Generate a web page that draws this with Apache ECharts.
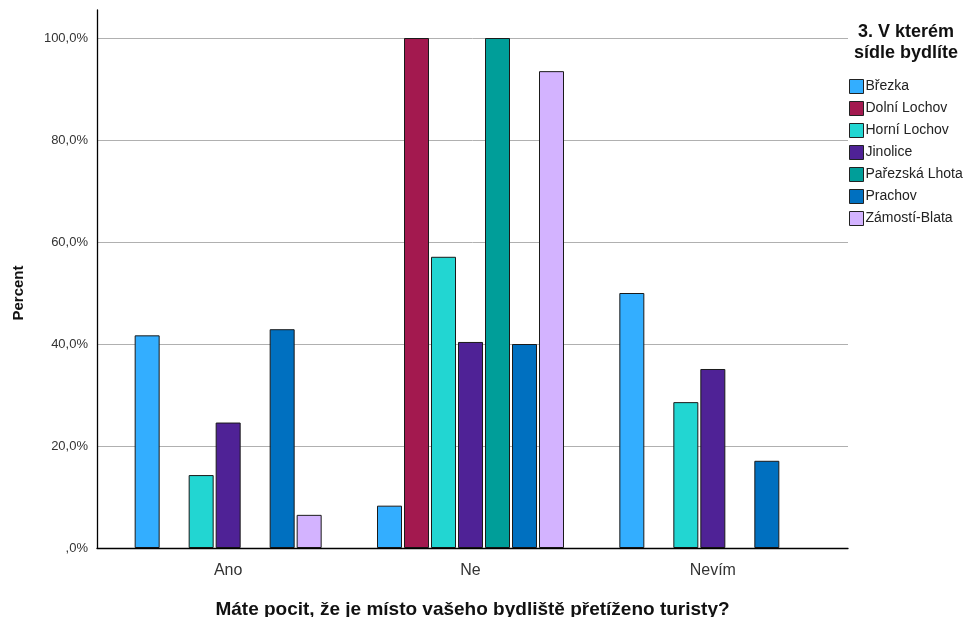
<!DOCTYPE html>
<html><head><meta charset="utf-8">
<script src="https://cdn.jsdelivr.net/npm/echarts@6/dist/echarts.min.js"></script>
<style>html,body{margin:0;padding:0;background:#fff}#c{width:975px;height:617px}</style>
</head><body><div id="c"></div>
<script>
const categories = ['Ano', 'Ne', 'Nevím'];
const seriesNames = ['Březka', 'Dolní Lochov', 'Horní Lochov', 'Jinolice', 'Pařezská Lhota', 'Prachov', 'Zámostí-Blata'];
const brezka = [41.7, 8.3, 50.0];
const dolniLochov = [null, 100.0, null];
const horniLochov = [14.3, 57.1, 28.6];
const jinolice = [24.6, 40.4, 35.1];
const parezskaLhota = [null, 100.0, null];
const prachov = [42.9, 40.0, 17.1];
const zamostiBlata = [6.5, 93.5, null];
const yTickValues = [0, 20, 40, 60, 80, 100];
const legendTitle = ['3. V kterém', 'sídle bydlíte'];
const xTitle = 'Máte pocit, že je místo vašeho bydliště přetíženo turisty?';
const yTitle = 'Percent';

const seriesValues = [brezka, dolniLochov, horniLochov, jinolice, parezskaLhota, prachov, zamostiBlata];
const colors = ['#33AEFF', '#A3194F', '#22D6D2', '#4F2296', '#009E99', '#0070C0', '#D3B3FF'];
const FONT = '"Liberation Sans", Arial, sans-serif';

function fmt(v) {
  if (v === 0) return ',0%';
  return v.toFixed(1).replace('.', ',') + '%';
}

const chart = echarts.init(document.getElementById('c'), null, {renderer: 'canvas'});
chart.setOption({
  animation: false,
  backgroundColor: '#fff',
  textStyle: {fontFamily: FONT},
  grid: [
    {left: 97, right: 127, top: 10, bottom: 69, outerBoundsMode: 'none', containLabel: false},
    {left: 97, right: 127, top: 38, bottom: 69, outerBoundsMode: 'none', containLabel: false},
    {left: 107, right: 141, top: 38, bottom: 69, outerBoundsMode: 'none', containLabel: false}
  ],
  xAxis: [
    {gridIndex: 0, type: 'category', data: categories, z: 5,
     axisLine: {show: true, lineStyle: {color: '#000', width: 1.3}},
     axisTick: {show: false}, axisLabel: {show: false}, splitLine: {show: false}},
    {gridIndex: 1, type: 'category', data: categories,
     axisLine: {show: false}, axisTick: {show: false}, axisLabel: {show: false},
     name: xTitle, nameLocation: 'middle', nameGap: 52,
     nameTextStyle: {fontFamily: FONT, fontSize: 19, fontWeight: 'bold', color: '#111'}},
    {gridIndex: 2, type: 'category', data: categories,
     axisLine: {show: false}, axisTick: {show: false},
     axisLabel: {margin: 15, fontSize: 16, color: '#333', fontFamily: FONT}}
  ],
  yAxis: [
    {gridIndex: 0, type: 'value', min: 0, max: 105.5, z: 5,
     axisLine: {show: true, lineStyle: {color: '#000', width: 1.3}},
     axisTick: {show: false}, axisLabel: {show: false}, splitLine: {show: false}},
    {gridIndex: 1, type: 'value', min: 0, max: 100, interval: 20,
     axisLine: {show: false}, axisTick: {show: false},
     axisLabel: {margin: 9, fontSize: 13, color: '#333', fontFamily: FONT,
       formatter: function (v) { return yTickValues.indexOf(v) >= 0 ? fmt(v) : ''; }},
     splitLine: {show: true, lineStyle: {color: '#b0b0b0', width: 1}},
     name: yTitle, nameLocation: 'middle', nameGap: 71, nameRotate: 90,
     nameTextStyle: {fontFamily: FONT, fontSize: 15, fontWeight: 'bold', color: '#111'}},
    {gridIndex: 2, type: 'value', min: 0, max: 100, show: false}
  ],
  legend: {
    orient: 'vertical', left: 844, top: 74,
    itemWidth: 14, itemHeight: 14, itemGap: 7,
    icon: 'rect',
    textStyle: {fontFamily: FONT, fontSize: 14, color: '#222', padding: [0, 0, 0, -3]},
    itemStyle: {borderColor: '#222', borderWidth: 1},
    data: seriesNames
  },
  graphic: [
    {type: 'text', x: 906, y: 32, style: {text: legendTitle[0], textAlign: 'center', textVerticalAlign: 'middle',
      font: 'bold 18px ' + FONT, fill: '#111'}},
    {type: 'text', x: 906, y: 53, style: {text: legendTitle[1], textAlign: 'center', textVerticalAlign: 'middle',
      font: 'bold 18px ' + FONT, fill: '#111'}}
  ],
  series: seriesNames.map(function (name, i) {
    return {
      name: name, type: 'bar', xAxisIndex: 2, yAxisIndex: 2,
      data: seriesValues[i], barWidth: 25, barGap: '8%',
      itemStyle: {color: colors[i], borderColor: '#1a1a1a', borderWidth: 1}
    };
  })
});
</script>
</body></html>
